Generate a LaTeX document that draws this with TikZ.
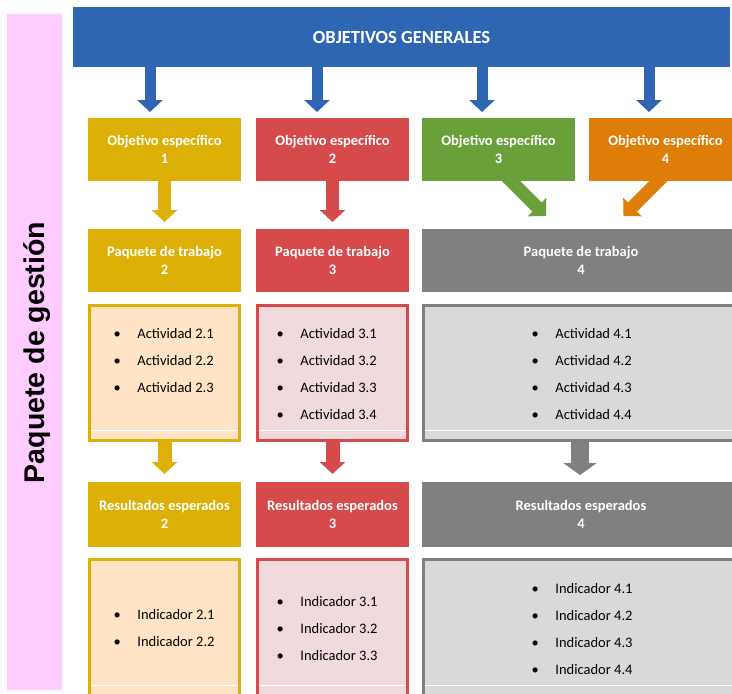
\documentclass[tikz,border=0pt]{standalone}
\usepackage{fontspec}
\setmainfont{Carlito}
\newfontfamily\sidefont{Liberation Sans}
\usetikzlibrary{arrows.meta,backgrounds}
\definecolor{cblue}{RGB}{47,102,179}
\definecolor{cyel}{RGB}{220,176,6}
\definecolor{cred}{RGB}{214,74,75}
\definecolor{cgreen}{RGB}{106,160,58}
\definecolor{corange}{RGB}{222,125,8}
\definecolor{cgray}{RGB}{128,128,128}
\definecolor{cpink}{RGB}{255,204,255}
\definecolor{lyel}{RGB}{255,229,198}
\definecolor{lred}{RGB}{240,218,219}
\definecolor{lgray}{RGB}{217,217,217}
\tikzset{
  hbox/.style={fill=#1, draw=none, inner sep=0pt, outer sep=0pt, text=white,
    font=\bfseries\fontsize{14.5}{18}\selectfont, align=center},
  lbox/.style 2 args={fill=#1, draw=#2, line width=3pt, inner sep=0pt, outer sep=0pt},
  itm/.style={anchor=base west, inner sep=0pt, text=black, font=\fontsize{14.5}{17}\selectfont},
  barrow/.style n args={4}{draw=#1, line width=#2, -{Triangle[width=#3, length=#4]}},
  wline/.style={draw=white, line width=1pt}
}
\begin{document}
\begin{tikzpicture}[x=1pt,y=-1pt]
\useasboundingbox (0,0) rectangle (732,694);
\clip (0,0) rectangle (732,694);

% side bar
\node[fill=cpink, minimum width=55pt, minimum height=676pt, inner sep=0pt, outer sep=0pt] (side) at (34.5,352) {};
\node[rotate=90, anchor=base, inner sep=0pt, font=\sidefont\bfseries\fontsize{28.5}{30}\selectfont] (sidetxt) at (44,352.5) {Paquete de gestión};

% header
\node[hbox=cblue, minimum width=657pt, minimum height=60pt, font=\bfseries\fontsize{18.5}{20}\selectfont] (hdr) at (401.5,37) {OBJETIVOS GENERALES};

% objectives
\node[hbox=cyel, minimum width=153pt, minimum height=63pt] (o1) at (164.5,149.5) {Objetivo específico\\1};
\node[hbox=cred, minimum width=153pt, minimum height=63pt] (o2) at (332.5,149.5) {Objetivo específico\\2};
\node[hbox=cgreen, minimum width=153pt, minimum height=63pt] (o3) at (498.5,149.5) {Objetivo específico\\3};
\node[hbox=corange, minimum width=153pt, minimum height=63pt] (o4) at (665.5,149.5) {Objetivo específico\\4};

% work packages
\node[hbox=cyel, minimum width=153pt, minimum height=63pt] (p2) at (164.5,260.5) {Paquete de trabajo\\2};
\node[hbox=cred, minimum width=153pt, minimum height=63pt] (p3) at (332.5,260.5) {Paquete de trabajo\\3};
\node[hbox=cgray, minimum width=318pt, minimum height=63pt] (p4) at (581,260.5) {};
\node[hbox=cgray] (p4t) at (581,260.5) {Paquete de trabajo\\4};

% activity boxes
\node[lbox={lyel}{cyel}, minimum width=150pt, minimum height=135pt] (a2) at (164.5,373) {};
\node[lbox={lred}{cred}, minimum width=150pt, minimum height=135pt] (a3) at (332.5,373) {};
\node[lbox={lgray}{cgray}, minimum width=321.5pt, minimum height=135pt] (a4) at (584.25,373) {};
\draw[wline] ([xshift=1.5pt,yshift=10.5pt]a2.south west) -- ([xshift=-1.5pt,yshift=10.5pt]a2.south east);
\draw[wline] ([xshift=1.5pt,yshift=10.5pt]a3.south west) -- ([xshift=-1.5pt,yshift=10.5pt]a3.south east);
\draw[wline] ([xshift=1.5pt,yshift=10.5pt]a4.south west) -- ([xshift=-1.5pt,yshift=10.5pt]a4.south east);

% results
\node[hbox=cyel, minimum width=153pt, minimum height=65pt] (r2) at (164.5,514.5) {Resultados esperados\\2};
\node[hbox=cred, minimum width=153pt, minimum height=65pt] (r3) at (332.5,514.5) {Resultados esperados\\3};
\node[hbox=cgray, minimum width=318pt, minimum height=65pt] (r4) at (581,514.5) {};
\node[hbox=cgray] (r4t) at (581,514.5) {Resultados esperados\\4};

% indicator boxes
\node[lbox={lyel}{cyel}, minimum width=150pt, minimum height=160.5pt] (i2) at (164.5,639.75) {};
\node[lbox={lred}{cred}, minimum width=150pt, minimum height=160.5pt] (i3) at (332.5,639.75) {};
\node[lbox={lgray}{cgray}, minimum width=321.5pt, minimum height=160.5pt] (i4) at (584.25,639.75) {};
\draw[wline] ([xshift=1.5pt,yshift=35pt]i2.south west) -- ([xshift=-1.5pt,yshift=35pt]i2.south east);
\draw[wline] ([xshift=1.5pt,yshift=35pt]i3.south west) -- ([xshift=-1.5pt,yshift=35pt]i3.south east);
\draw[wline] ([xshift=1.5pt,yshift=35pt]i4.south west) -- ([xshift=-1.5pt,yshift=35pt]i4.south east);

% list items
\foreach \n [count=\i] in {2.1,2.2,2.3}
  \node[itm] (ta2-\i) at (113.5,311+27*\i) {\textbullet\hspace{16.5pt}Actividad \n};
\foreach \n [count=\i] in {3.1,3.2,3.3,3.4}
  \node[itm] (ta3-\i) at (276.5,311+27*\i) {\textbullet\hspace{16.5pt}Actividad \n};
\foreach \n [count=\i] in {4.1,4.2,4.3,4.4}
  \node[itm] (ta4-\i) at (531.5,311+27*\i) {\textbullet\hspace{16.5pt}Actividad \n};
\foreach \n [count=\i] in {2.1,2.2}
  \node[itm] (ti2-\i) at (113.5,592+27*\i) {\textbullet\hspace{16.5pt}Indicador \n};
\foreach \n [count=\i] in {3.1,3.2,3.3}
  \node[itm] (ti3-\i) at (276.5,579+27*\i) {\textbullet\hspace{16.5pt}Indicador \n};
\foreach \n [count=\i] in {4.1,4.2,4.3,4.4}
  \node[itm] (ti4-\i) at (531.5,566+27*\i) {\textbullet\hspace{16.5pt}Indicador \n};

% arrow end points
\coordinate (bt1) at (150,112);
\coordinate (bt2) at (317,112);
\coordinate (bt3) at (482,112);
\coordinate (bt4) at (649,112);
\coordinate (gt) at (546,216);
\coordinate (ot) at (623.5,216);
\coordinate (gx) at (580,475);

\begin{pgfonlayer}{background}
\draw[barrow={cblue}{11pt}{25pt}{12pt}] (hdr.south -| bt1) -- (bt1);
\draw[barrow={cblue}{11pt}{25pt}{12pt}] (hdr.south -| bt2) -- (bt2);
\draw[barrow={cblue}{11pt}{25pt}{12pt}] (hdr.south -| bt3) -- (bt3);
\draw[barrow={cblue}{11pt}{25pt}{12pt}] (hdr.south -| bt4) -- (bt4);
\draw[barrow={cyel}{13pt}{25pt}{12pt}] (o1.south) -- ([yshift=7pt]p2.north);
\draw[barrow={cred}{13pt}{25pt}{12pt}] (o2.south) -- ([yshift=7pt]p3.north);
\draw[barrow={cgreen}{13pt}{25.5pt}{12.7pt}] ([xshift=6.5pt,yshift=6pt]o3.south) -- (gt);
\draw[barrow={corange}{13pt}{25.5pt}{12.7pt}] ([xshift=-1pt,yshift=6pt]o4.south) -- (ot);
\draw[barrow={cyel}{14pt}{25pt}{12pt}] (a2.south) -- ([yshift=8pt]r2.north);
\draw[barrow={cred}{14pt}{25pt}{12pt}] (a3.south) -- ([yshift=8pt]r3.north);
\draw[barrow={cgray}{18pt}{33pt}{12pt}] (a4.south -| gx) -- (gx);
\end{pgfonlayer}
\end{tikzpicture}
\end{document}
